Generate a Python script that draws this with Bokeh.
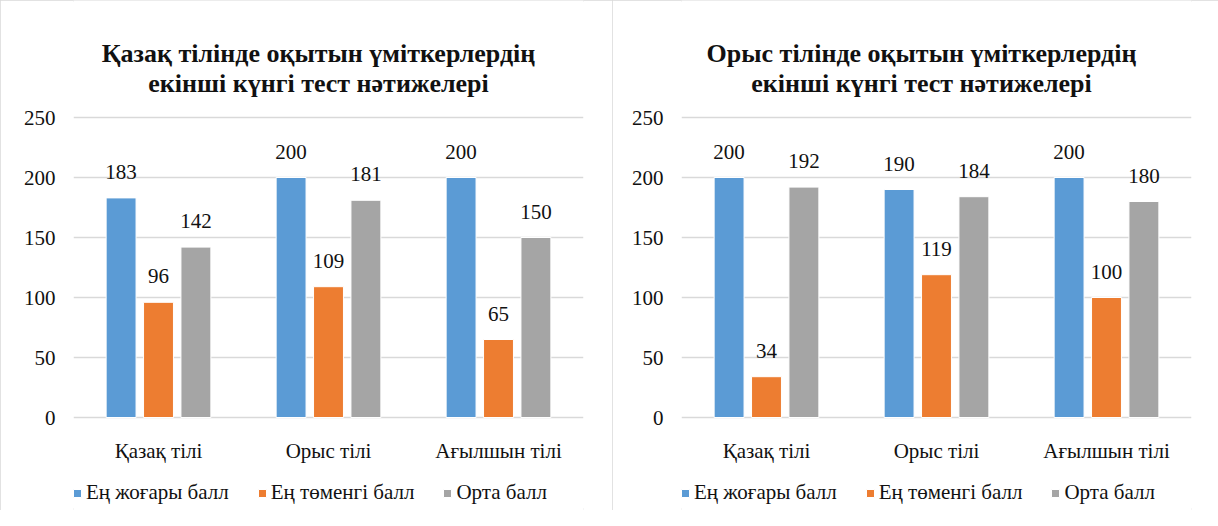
from bokeh.plotting import figure
from bokeh.models import (ColumnDataSource, FactorRange, Range1d, Label, Legend,
                          LegendItem, InlineStyleSheet)
from bokeh.transform import dodge
from bokeh.layouts import row
from bokeh.core.properties import value
from bokeh.embed import file_html
from bokeh.resources import INLINE

categories = ["Қазақ тілі", "Орыс тілі", "Ағылшын тілі"]
series_names = ["Ең жоғары балл", "Ең төменгі балл", "Орта балл"]
colors = ["#5b9bd5", "#ed7d31", "#a5a5a5"]

title_kaz = ["Қазақ тілінде оқытын үміткерлердің", "екінші күнгі тест нәтижелері"]
kaz_max = [183, 200, 200]
kaz_min = [96, 109, 65]
kaz_avg = [142, 181, 150]

title_rus = ["Орыс тілінде оқытын үміткерлердің", "екінші күнгі тест нәтижелері"]
rus_max = [200, 190, 200]
rus_min = [34, 119, 100]
rus_avg = [192, 184, 180]

y_ticks = [0, 50, 100, 150, 200, 250]

FONT = "Liberation Serif"
TXT = "#111111"
GRID = "#d9d9d9"


def make_chart(title, vmax, vmin, vavg, width, mbl, mbr, title_x):
    src = ColumnDataSource(dict(
        cat=categories,
        s0=vmax, s1=vmin, s2=vavg,
        l0=[str(v) for v in vmax], l1=[str(v) for v in vmin], l2=[str(v) for v in vavg],
    ))
    # frame spans the full figure height; 1.2 px per unit, value 0 at 417 px
    p = figure(x_range=FactorRange(factors=categories), y_range=Range1d(-77.5, 347.5),
               width=width, height=510, title=None, x_axis_location=None,
               output_backend="svg", toolbar_location=None,
               min_border_left=mbl, min_border_right=mbr,
               min_border_top=0, min_border_bottom=0)
    for txt, yb in zip(title, [457, 427]):
        p.add_layout(Label(x=title_x, y=yb, x_units="screen", y_units="screen",
                           text=txt, text_align="center", text_baseline="alphabetic",
                           text_font=FONT, text_font_size="26px",
                           text_font_style="bold", text_color=TXT))
    p.outline_line_color = None
    p.xgrid.grid_line_color = None
    p.ygrid.grid_line_color = GRID
    p.ygrid.grid_line_width = 1.5
    p.yaxis.ticker = y_ticks
    p.yaxis.axis_line_color = None
    p.yaxis.major_tick_line_color = None
    p.yaxis.minor_tick_line_color = None
    p.yaxis.major_tick_out = 0
    p.yaxis.major_tick_in = 0
    p.yaxis.major_label_standoff = 18
    p.yaxis.major_label_text_font = FONT
    p.yaxis.major_label_text_font_size = "21px"
    p.yaxis.major_label_text_color = TXT

    # category labels under the baseline
    p.text(x="cat", y=0, text="cat", source=src, text_align="center",
           text_baseline="alphabetic", y_offset=33, text_font=value(FONT),
           text_font_size="21px", text_color=TXT)

    offsets = [-0.22, 0.0, 0.22]
    items = []
    for i, off in enumerate(offsets):
        r = p.vbar(x=dodge("cat", off, range=p.x_range), top="s%d" % i, width=0.176,
                   source=src, fill_color=colors[i], line_color="white", line_width=1)
        p.text(x=dodge("cat", off, range=p.x_range), y="s%d" % i, text="l%d" % i,
               source=src, text_align="center", text_baseline="alphabetic",
               y_offset=-26, text_font=value(FONT), text_font_size="21px",
               text_color=TXT)
        items.append(LegendItem(label=series_names[i], renderers=[r]))
    legend = Legend(items=items, orientation="horizontal", location=(-1, 5),
                    label_text_font=FONT, label_text_font_size="21px",
                    label_text_color=TXT, label_height=24,
                    glyph_width=10, glyph_height=10,
                    label_standoff=4, spacing=28, padding=0, margin=0,
                    border_line_color=None, background_fill_alpha=0)
    p.add_layout(legend, "center")
    p.stylesheets = [InlineStyleSheet(css=":host { outline: 2px solid #d9d9d9; outline-offset: -2px; }")]
    return p


p1 = make_chart(title_kaz, kaz_max, kaz_min, kaz_avg, 612, 73, 29, 245)
p2 = make_chart(title_rus, rus_max, rus_min, rus_avg, 606, 69, 27, 240)
layout = row(p1, p2, spacing=0)

open("out.html", "w").write(file_html(layout, INLINE))
